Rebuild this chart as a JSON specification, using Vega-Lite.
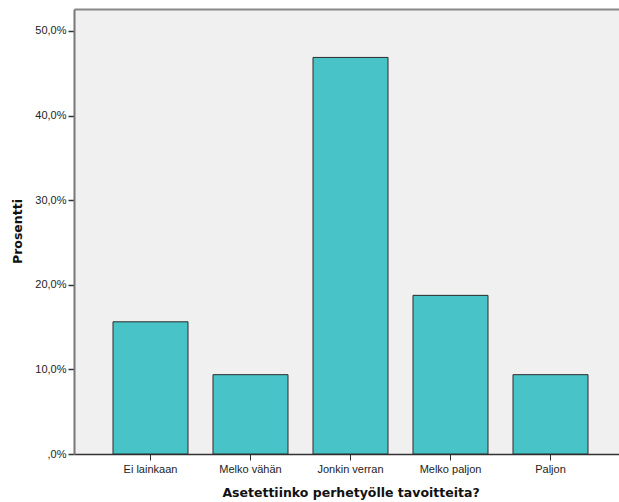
{
  "$schema": "https://vega.github.io/schema/vega-lite/v6.json",
  "autosize": {"type": "none"},
  "padding": {"left": 74, "top": 9, "right": 0, "bottom": 48},
  "width": 553,
  "height": 445,
  "background": "white",
  "config": {
    "view": {"fill": "#f0f0f0", "stroke": null},
    "font": "Liberation Sans"
  },
  "data": {
    "values": [
      {"vastaus": "Ei lainkaan", "prosentti": 15.625},
      {"vastaus": "Melko vähän", "prosentti": 9.375},
      {"vastaus": "Jonkin verran", "prosentti": 46.875},
      {"vastaus": "Melko paljon", "prosentti": 18.75},
      {"vastaus": "Paljon", "prosentti": 9.375}
    ]
  },
  "encoding": {
    "y": {
      "field": "prosentti",
      "type": "quantitative",
      "scale": {"domain": [0, 52.6], "nice": false},
      "axis": {
        "title": "Prosentti",
        "titleFont": "DejaVu Sans",
        "titleFontSize": 12.5,
        "titleFontWeight": "bold",
        "titleColor": "#111",
        "titleX": -57,
        "titleY": 222,
        "titleBaseline": "middle",
        "values": [0, 10, 20, 30, 40, 50],
        "labelExpr": "datum.value == 0 ? ',0%' : replace(format(datum.value, '.1f'), '.', ',') + '%'",
        "labelFontSize": 11,
        "labelColor": "#222",
        "labelPadding": 2,
        "tickSize": 6,
        "tickColor": "#333",
        "tickWidth": 1.5,
        "domainColor": "#777",
        "domainWidth": 2,
        "grid": false
      }
    }
  },
  "layer": [
    {
      "mark": {"type": "bar", "fill": "#48c4c8", "stroke": "#2a2a2a", "strokeWidth": 1},
      "encoding": {
        "x": {
          "field": "vastaus",
          "type": "nominal",
          "sort": null,
          "scale": {"paddingInner": 0.25, "paddingOuter": 0.39},
          "axis": {
            "title": "Asetettiinko perhetyölle tavoitteita?",
            "titleFont": "DejaVu Sans",
            "titleFontSize": 12.5,
            "titleFontWeight": "bold",
            "titleColor": "#111",
            "titleY": 38,
            "titleBaseline": "middle",
            "labelAngle": 0,
            "labelFontSize": 11,
            "labelColor": "#222",
            "labelPadding": 3,
            "tickSize": 6,
            "tickColor": "#333",
            "domainColor": "#333",
            "domainWidth": 1.5
          }
        }
      }
    },
    {
      "mark": {"type": "bar", "opacity": 0},
      "encoding": {
        "x": {
          "field": "vastaus",
          "type": "nominal",
          "sort": null,
          "scale": {"paddingInner": 0.25, "paddingOuter": 0.39},
          "axis": {
            "orient": "top",
            "title": null,
            "labels": false,
            "ticks": false,
            "domainColor": "#888",
            "domainWidth": 2
          }
        }
      }
    }
  ],
  "resolve": {"axis": {"x": "independent"}}
}
